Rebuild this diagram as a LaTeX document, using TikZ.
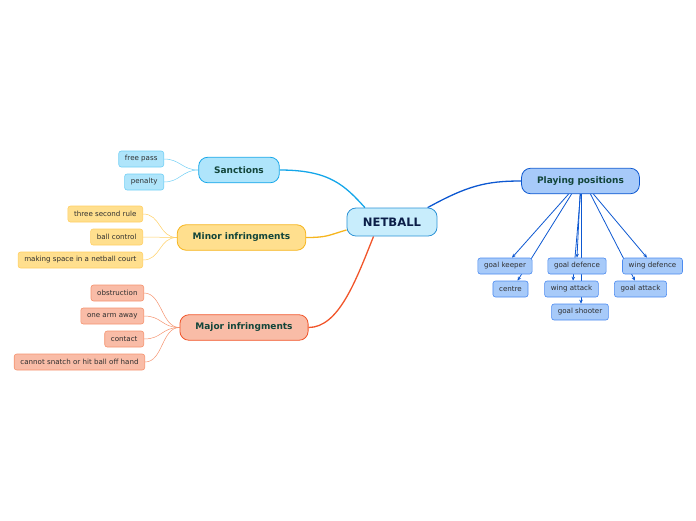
\documentclass[tikz,border=0pt]{standalone}
\usepackage{fontspec}
\setmainfont{DejaVu Sans}
\usetikzlibrary{arrows.meta}
\usetikzlibrary{backgrounds}

\definecolor{rootfill}{HTML}{C8EDFC}
\definecolor{rootdraw}{HTML}{2C93D6}
\definecolor{roottext}{HTML}{0B1E48}
\definecolor{topictext}{HTML}{12453A}
\definecolor{leaftext}{HTML}{2E2E2E}
\definecolor{sancfill}{HTML}{AFE5FB}
\definecolor{sancdraw}{HTML}{14A6E9}
\definecolor{sancleaf}{HTML}{72CFF5}
\definecolor{minorfill}{HTML}{FFDF8E}
\definecolor{minordraw}{HTML}{F6B51E}
\definecolor{minorleaf}{HTML}{FFCF63}
\definecolor{majorfill}{HTML}{F9BCA7}
\definecolor{majordraw}{HTML}{F1552A}
\definecolor{majorleaf}{HTML}{F5936F}
\definecolor{posfill}{HTML}{A7CAF9}
\definecolor{posdraw}{HTML}{0D58D1}
\definecolor{posleaf}{HTML}{4C8BF0}

\tikzset{
  root/.style={draw=rootdraw, fill=rootfill, text=roottext, line width=0.8pt, rounded corners=9pt,
    font=\bfseries\fontsize{11.6}{13}\selectfont, minimum height=28pt, inner xsep=16pt, inner ysep=0pt},
  topic/.style={line width=0.8pt, rounded corners=9pt, text=topictext,
    font=\bfseries\fontsize{9}{10}\selectfont, minimum height=25.5pt, inner xsep=15.5pt, inner ysep=0pt},
  leaf/.style={line width=0.6pt, rounded corners=2.5pt, text=leaftext,
    font=\fontsize{7.1}{8}\selectfont, minimum height=16pt, inner xsep=6.2pt, inner ysep=0pt},
  branch/.style={line width=1.3pt},
  twig/.style={line width=0.5pt},
  arr/.style={line width=0.8pt, draw=posdraw, -{Stealth[length=4pt,width=3.5pt]}}
}

\begin{document}
\begin{tikzpicture}[x=1pt,y=-1pt]
\useasboundingbox (0,0) rectangle (696,520);

\node[root] (netball) at (392,222) {NETBALL};

\node[topic, draw=sancdraw, fill=sancfill] (sanc) at (239,170) {Sanctions};
\node[topic, draw=minordraw, fill=minorfill] (minor) at (241.5,237.5) {Minor infringments};
\node[topic, draw=majordraw, fill=majorfill] (major) at (244,327.5) {Major infringments};
\node[topic, draw=posdraw, fill=posfill] (pos) at (580.5,181) {Playing positions};

\node[leaf, draw=sancleaf, fill=sancfill, anchor=east] (free) at (164,159) {free pass};
\node[leaf, draw=sancleaf, fill=sancfill, anchor=east] (pen) at (164,182) {penalty};

\node[leaf, draw=minorleaf, fill=minorfill, anchor=east] (three) at (143,214) {three second rule};
\node[leaf, draw=minorleaf, fill=minorfill, anchor=east] (ball) at (143,237) {ball control};
\node[leaf, draw=minorleaf, fill=minorfill, anchor=east] (space) at (143,260) {making space in a netball court};

\node[leaf, draw=majorleaf, fill=majorfill, anchor=east] (obst) at (144,293) {obstruction};
\node[leaf, draw=majorleaf, fill=majorfill, anchor=east] (arm) at (144,316) {one arm away};
\node[leaf, draw=majorleaf, fill=majorfill, anchor=east] (cont) at (144,339) {contact};
\node[leaf, draw=majorleaf, fill=majorfill, anchor=east] (snatch) at (145,362) {cannot snatch or hit ball off hand};

\node[leaf, draw=posleaf, fill=posfill] (gk) at (505,266) {goal keeper};
\node[leaf, draw=posleaf, fill=posfill] (centre) at (510.5,289) {centre};
\node[leaf, draw=posleaf, fill=posfill] (gd) at (577,266) {goal defence};
\node[leaf, draw=posleaf, fill=posfill] (wa) at (571.5,289) {wing attack};
\node[leaf, draw=posleaf, fill=posfill] (gs) at (580,312) {goal shooter};
\node[leaf, draw=posleaf, fill=posfill] (wd) at (652.5,266) {wing defence};
\node[leaf, draw=posleaf, fill=posfill] (ga) at (640.5,289) {goal attack};

\begin{scope}[on background layer]
\draw[branch, sancdraw] (sanc.east) .. controls +(50,0) and +(-20,-22) .. (netball.152);
\draw[branch, minordraw] (minor.east) .. controls +(22,0) and +(-18,5) .. (netball.190);
\draw[branch, majordraw] (major.east) .. controls +(30,0) and +(-18,45) .. (netball.218);
\draw[branch, posdraw] (netball.22) .. controls +(40,-22) and +(-35,0) .. (pos.west);

\foreach \leaf in {free,pen}
  \draw[twig, sancleaf] (\leaf.east) .. controls +(16,0) and +(-16,0) .. (sanc.west);
\foreach \leaf in {three,ball,space}
  \draw[twig, minorleaf] (\leaf.east) .. controls +(18,0) and +(-18,0) .. (minor.west);
\foreach \leaf in {obst,arm,cont,snatch}
  \draw[twig, majorleaf] (\leaf.east) .. controls +(18,0) and +(-18,0) .. (major.west);

\draw[arr] ([xshift=-12pt]pos.south) -- ([xshift=7pt]gk.north);
\draw[arr] ([xshift=-9pt]pos.south) -- ([xshift=7pt]centre.north);
\draw[arr] ([xshift=-0.5pt]pos.south) -- (gd.north);
\draw[arr] (pos.south) -- ([xshift=1.5pt]wa.north);
\draw[arr] ([xshift=0.5pt]pos.south) -- ([xshift=1pt]gs.north);
\draw[arr] ([xshift=13pt]pos.south) -- ([xshift=-5.5pt]wd.north);
\draw[arr] ([xshift=10pt]pos.south) -- ([xshift=-5.5pt]ga.north);
\end{scope}
\end{tikzpicture}
\end{document}
